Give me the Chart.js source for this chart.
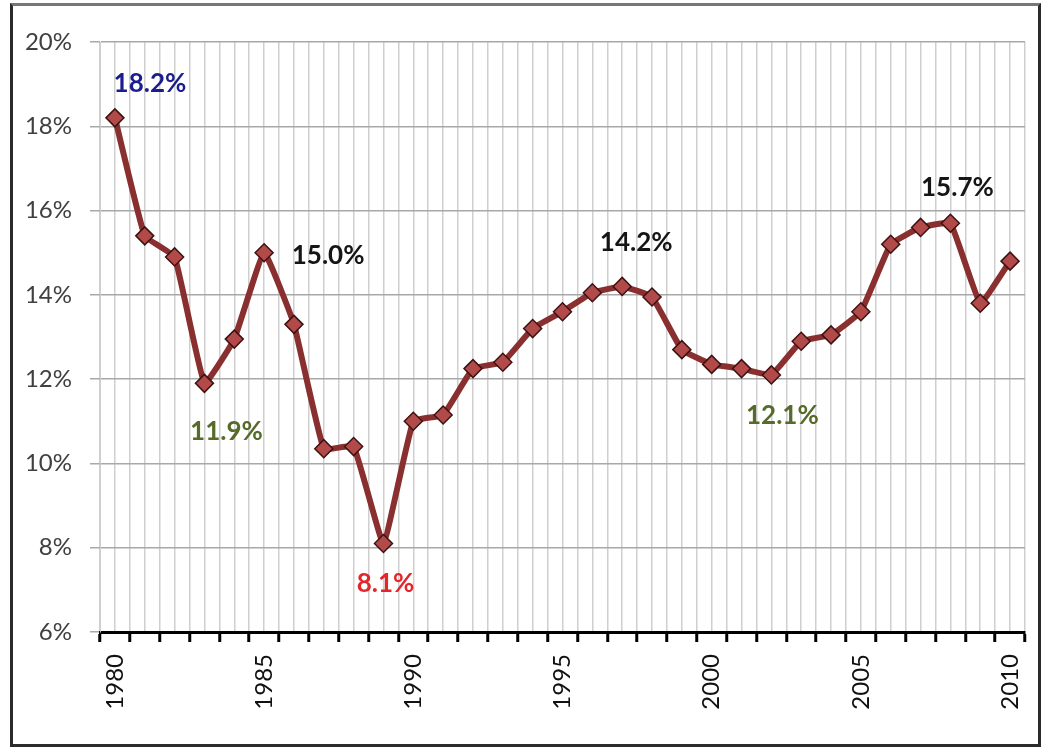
<!DOCTYPE html>
<html>
<head>
<meta charset="utf-8">
<script src="https://cdn.jsdelivr.net/npm/chart.js@4"></script>
<style>
  html, body { margin: 0; padding: 0; background: #fff; }
  #wrap { position: relative; width: 1042px; height: 749px; }
  #frame {
    position: absolute; left: 10px; top: 3px; width: 1031px; height: 744px;
    box-sizing: border-box; border: 3px solid #2b2b2b; border-top-color: #777;
    pointer-events: none;
  }
</style>
</head>
<body>
<div id="wrap">
  <canvas id="chart" width="1042" height="749"></canvas>
  <div id="frame"></div>
</div>
<script>
const years = [1980, 1981, 1982, 1983, 1984, 1985, 1986, 1987, 1988, 1989,
  1990, 1991, 1992, 1993, 1994, 1995, 1996, 1997, 1998, 1999,
  2000, 2001, 2002, 2003, 2004, 2005, 2006, 2007, 2008, 2009, 2010];
const rates = [18.2, 15.4, 14.9, 11.9, 12.95, 15.0, 13.3, 10.35, 10.4, 8.1,
  11.0, 11.15, 12.25, 12.4, 13.2, 13.6, 14.05, 14.2, 13.95, 12.7,
  12.35, 12.25, 12.1, 12.9, 13.05, 13.6, 15.2, 15.6, 15.7, 13.8, 14.8];
const yTicks = [6, 8, 10, 12, 14, 16, 18, 20];
const labelYears = [1980, 1985, 1983, 1989, 1997, 2002, 2008];
const labelTexts = ["18.2%", "15.0%", "11.9%", "8.1%", "14.2%", "12.1%", "15.7%"];

// where each callout sits relative to its point, and its colour
const calloutStyle = {
  1980: { dx: 35, dy: -34, color: "#1c1c8e" },
  1985: { dx: 64, dy: 3, color: "#151515" },
  1983: { dx: 22, dy: 48, color: "#566a2a" },
  1989: { dx: 2, dy: 40, color: "#e2262b" },
  1997: { dx: 14, dy: -44, color: "#151515" },
  2002: { dx: 11, dy: 41, color: "#566a2a" },
  2008: { dx: 7, dy: -36, color: "#151515" },
};

const callouts = {
  id: "callouts",
  afterDatasetsDraw(chart) {
    const { ctx } = chart;
    const meta = chart.getDatasetMeta(0);
    ctx.save();
    ctx.font = "bold 26px Lato";
    ctx.textAlign = "center";
    ctx.textBaseline = "middle";
    labelYears.forEach((yr, i) => {
      const pt = meta.data[years.indexOf(yr)];
      const s = calloutStyle[yr];
      ctx.fillStyle = s.color;
      ctx.fillText(labelTexts[i], pt.x + s.dx, pt.y + s.dy);
    });
    ctx.restore();
  },
};

const isBoundary = (v) => Math.abs(v % 1) > 0.25;

new Chart(document.getElementById("chart"), {
  type: "line",
  data: {
    datasets: [{
      data: years.map((y, i) => ({ x: y, y: rates[i] })),
      borderColor: "#8a2f2f",
      borderWidth: 6,
      tension: 0.1,
      pointStyle: "rectRot",
      pointRadius: 9,
      pointBackgroundColor: "#b24a4a",
      pointBorderColor: "#3d1212",
      pointBorderWidth: 1.5,
    }],
  },
  options: {
    responsive: false,
    animation: false,
    layout: { padding: { top: 42, right: 17, left: 0, bottom: 0 } },
    plugins: { legend: { display: false }, tooltip: { enabled: false } },
    scales: {
      x: {
        type: "linear",
        min: 1979.5,
        max: 2010.5,
        afterBuildTicks: (axis) => {
          const t = [];
          for (let v = 1979.5; v <= 2010.51; v += 0.5) t.push({ value: v });
          axis.ticks = t;
        },
        afterFit: (axis) => {
          axis.height = 749 - 632;
          axis.paddingLeft = 0;
          axis.paddingRight = 0;
        },
        ticks: {
          autoSkip: false,
          minRotation: 90,
          maxRotation: 90,
          padding: 12,
          color: "#111",
          font: { family: "Lato", size: 24 },
          callback: (v) => (!isBoundary(v) && v % 5 === 0 ? String(v) : ""),
        },
        grid: {
          color: "#cfcfcf",
          lineWidth: 1.5,
          tickLength: 10,
          tickColor: (c) => (c.tick && isBoundary(c.tick.value) ? "#000" : "rgba(0,0,0,0)"),
          tickWidth: 3,
        },
        border: { color: "#000", width: 3 },
      },
      y: {
        min: 6,
        max: 20,
        afterBuildTicks: (axis) => { axis.ticks = yTicks.map((v) => ({ value: v })); },
        afterFit: (axis) => { axis.width = 100; },
        ticks: {
          padding: 18,
          color: "#404040",
          font: { family: "Lato", size: 24 },
          callback: (v) => v + "%",
        },
        grid: { color: "#a8a8a8", lineWidth: 1.5, tickLength: 10 },
        border: { color: "#cfcfcf", width: 1 },
      },
    },
  },
  plugins: [callouts],
});
</script>
</body>
</html>
